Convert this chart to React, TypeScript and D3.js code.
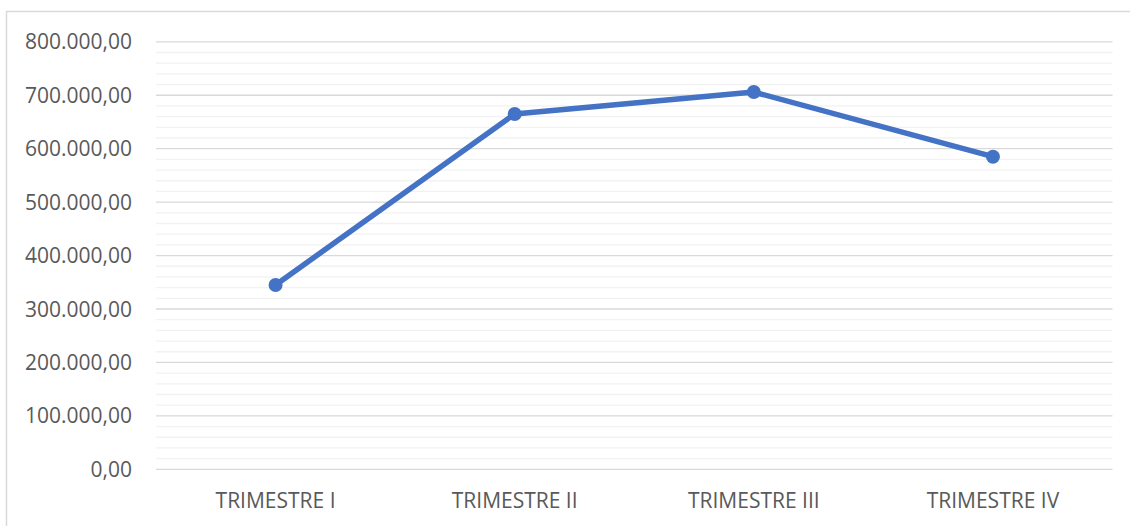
import React from "react";
import * as d3 from "d3";

const categories = ["TRIMESTRE I", "TRIMESTRE II", "TRIMESTRE III", "TRIMESTRE IV"];
const values = [345000, 665000, 706000, 585000];
const majorTicks = [0, 100000, 200000, 300000, 400000, 500000, 600000, 700000, 800000];

const W = 1130;
const H = 526;
const left = 156;
const right = 1112.5;
const top = 41.8;
const bottom = 469.3;

const fmt = (v: number) => {
  const s = d3.format(",.2f")(v);
  return s.replace(/,/g, "#").replace(/\./g, ",").replace(/#/g, ".");
};

export default function App() {
  const x = d3.scaleBand<string>().domain(categories).range([left, right]);
  const y = d3.scaleLinear().domain([0, 800000]).range([bottom, top]);
  const minorTicks = d3.range(0, 800001, 20000).filter((v) => v % 100000 !== 0);
  const line = d3
    .line<number>()
    .x((_, i) => (x(categories[i]) as number) + x.bandwidth() / 2)
    .y((v) => y(v));
  const font = "'Open Sans', 'Noto Sans', sans-serif";
  return (
    <svg
      width={W}
      height={H}
      style={{ position: "absolute", left: 0, top: 0, background: "#fff" }}
    >
      <rect x={6.5} y={11.5} width={W} height={H} fill="#fff" stroke="#d9d9d9" strokeWidth={1.5} />
      {minorTicks.map((t) => (
        <line key={"m" + t} x1={left} x2={right} y1={y(t)} y2={y(t)} stroke="#f2f2f2" strokeWidth={1.3} />
      ))}
      {majorTicks.map((t) => (
        <line key={"M" + t} x1={left} x2={right} y1={y(t)} y2={y(t)} stroke="#d9d9d9" strokeWidth={1.3} />
      ))}
      {majorTicks.map((t) => (
        <text
          key={"l" + t}
          x={132}
          y={y(t)}
          dy="0.36em"
          textAnchor="end"
          fontFamily={font}
          fontSize={21}
          fill="#595959"
        >
          {fmt(t)}
        </text>
      ))}
      {categories.map((c) => (
        <text
          key={c}
          x={(x(c) as number) + x.bandwidth() / 2}
          y={508}
          textAnchor="middle"
          fontFamily={font}
          fontSize={21}
          fill="#595959"
        >
          {c}
        </text>
      ))}
      <path d={line(values) || ""} fill="none" stroke="#4472C4" strokeWidth={5.5} strokeLinejoin="round" strokeLinecap="round" />
      {values.map((v, i) => (
        <circle
          key={i}
          cx={(x(categories[i]) as number) + x.bandwidth() / 2}
          cy={y(v)}
          r={7}
          fill="#4472C4"
        />
      ))}
    </svg>
  );
}
